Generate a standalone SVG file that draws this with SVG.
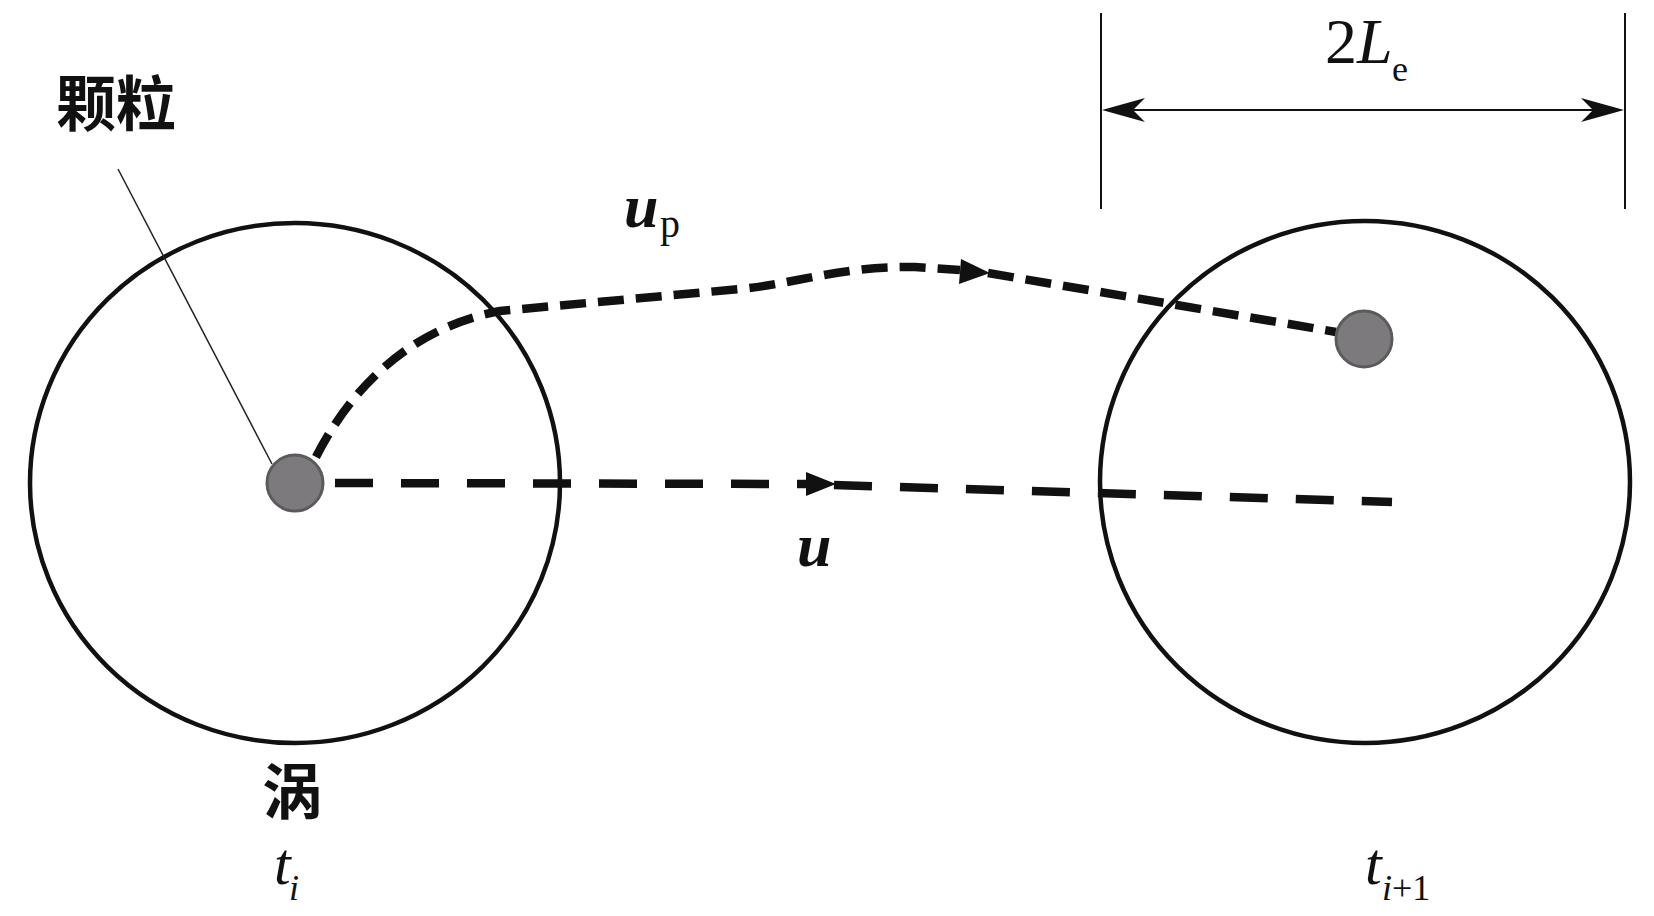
<svg xmlns="http://www.w3.org/2000/svg" width="1654" height="916" viewBox="0 0 1654 916">
<style>
.ring{fill:none;stroke:#111;stroke-width:4.5}
.dash{fill:none;stroke:#111;stroke-width:8.5;stroke-dasharray:38 28}
.dash-p{fill:none;stroke:#111;stroke-width:8.5;stroke-dasharray:26 12}
.particle{fill:#7c7a7c;stroke:#5c5a5c;stroke-width:3}
.thin{fill:none;stroke:#222;stroke-width:1.5}
.dim{fill:none;stroke:#111;stroke-width:2}
.head{fill:#111;stroke:none}
.cjk{font-family:"Noto Sans CJK SC","Noto Sans CJK JP",sans-serif;font-size:60px;font-weight:700;fill:#111}
.math{font-family:"Liberation Serif",serif;fill:#111}
</style>
<rect width="1654" height="916" fill="#fff"/>
<g id="eddy-left">
<ellipse class="ring" cx="295" cy="483" rx="265" ry="260"/>
</g>
<g id="eddy-right">
<ellipse class="ring" cx="1365" cy="482" rx="265" ry="261"/>
</g>
<g id="connectors">
<line class="thin" x1="118" y1="169" x2="272" y2="464"/>
<path class="dash" d="M335,483 L806,484"/>
<path class="dash" d="M834,485 L1392,502"/>
<polygon class="head" points="836,484 806,472 806,496"/>
<path class="dash-p" d="M316,457 C345,400 400,330 500,311 L740,289 C800,283 840,266 915,267 L960,270"/>
<path class="dash-p" d="M988,273 L1336,332"/>
<polygon class="head" points="990,273 961,259 959,284"/>
</g>
<g id="particle-left">
<circle class="particle" cx="295" cy="483" r="28"/>
</g>
<g id="particle-right">
<circle class="particle" cx="1364" cy="339" r="28"/>
</g>
<g id="dimension">
<line class="dim" x1="1101" y1="13" x2="1101" y2="209"/>
<line class="dim" x1="1625" y1="13" x2="1625" y2="209"/>
<line class="dim" x1="1125" y1="110" x2="1601" y2="110"/>
<polygon class="head" points="1102,110 1145,98 1133,110 1145,122"/>
<polygon class="head" points="1624,110 1581,98 1593,110 1581,122"/>
<text class="math" x="1325" y="63" font-size="64">2<tspan font-style="italic">L</tspan></text>
<text class="math" x="1392" y="81" font-size="36">e</text>
</g>
<g id="labels">
<text class="cjk" x="56" y="126">颗粒</text>
<text class="cjk" x="262" y="814">涡</text>
<text class="math" x="624" y="227" font-size="62" font-weight="bold" font-style="italic">u</text>
<text class="math" x="660" y="237" font-size="40">p</text>
<text class="math" x="797" y="566" font-size="62" font-weight="bold" font-style="italic">u</text>
<text class="math" x="274" y="884" font-size="60" font-style="italic">t</text>
<text class="math" x="289" y="900" font-size="36" font-style="italic">i</text>
<text class="math" x="1365" y="884" font-size="60" font-style="italic">t</text>
<text class="math" x="1382" y="900" font-size="36"><tspan font-style="italic">i</tspan>+1</text>
</g>
</svg>
